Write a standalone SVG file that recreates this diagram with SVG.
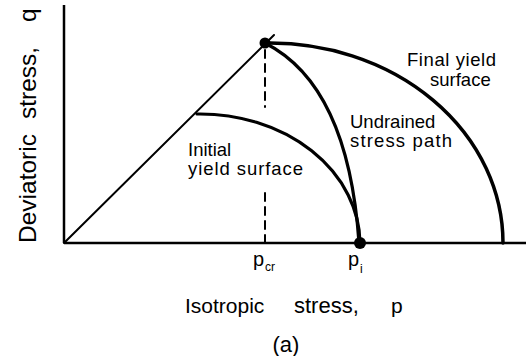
<svg xmlns="http://www.w3.org/2000/svg" width="526" height="356" viewBox="0 0 526 356">
<style>
text{font-family:"Liberation Sans",Arial,sans-serif;fill:#000}
.lbl{font-size:18.5px}
.ax{font-size:21px}
.c{fill:none;stroke:#000;stroke-linecap:round}
</style>
<rect width="526" height="356" fill="#fff"/>
<g id="axes">
<line x1="64" y1="5" x2="64" y2="243" stroke="#000" stroke-width="2.5"/>
<line x1="64" y1="243" x2="526" y2="243" stroke="#000" stroke-width="2.5"/>
<text transform="rotate(-90)" style="font-size:24.5px"><tspan x="-243" y="36">Deviatoric</tspan><tspan x="-119" y="36">stress,</tspan><tspan x="-22" y="36">q</tspan></text>
<text class="ax"><tspan x="185" y="313">Isotropic</tspan><tspan x="294" y="313" style="font-size:22px">stress,</tspan><tspan x="391" y="313">p</tspan></text>
<text style="font-size:22px" x="286" y="352" text-anchor="middle">(a)</text>
</g>
<g id="connectors">
<line class="c" x1="64" y1="243" x2="274" y2="35" stroke-width="2"/>
<path class="c" d="M265,50 V107 M265,193 V243" stroke-width="2" stroke-dasharray="8,6" stroke-linecap="butt"/>
</g>
<g id="initial-yield-surface">
<path class="c" d="M197,114 A160,130 0 0 1 360,243" stroke-width="3.2"/>
<text class="lbl"><tspan x="188" y="156">Initial</tspan><tspan x="188" y="175" textLength="115">yield  surface</tspan></text>
</g>
<g id="final-yield-surface">
<path class="c" d="M265,43 A233,200 0 0 1 503,243" stroke-width="3.5"/>
<text class="lbl"><tspan x="407" y="66" textLength="89">Final  yield</tspan><tspan x="430" y="86">surface</tspan></text>
</g>
<g id="undrained-stress-path">
<path class="c" d="M265,43 C322,72 352,140 359,243" stroke-width="3.2"/>
<text class="lbl"><tspan x="350" y="128">Undrained</tspan><tspan x="350" y="147" textLength="102">stress  path</tspan></text>
</g>
<g id="p-cr">
<circle cx="265" cy="43" r="5.5" fill="#000"/>
<text style="font-size:20px" x="253" y="266">p<tspan style="font-size:12px" x="265" y="271">cr</tspan></text>
</g>
<g id="p-i">
<circle cx="360" cy="243" r="6" fill="#000"/>
<text style="font-size:20px" x="348" y="266">p<tspan style="font-size:12px" x="360" y="273">i</tspan></text>
</g>
</svg>
